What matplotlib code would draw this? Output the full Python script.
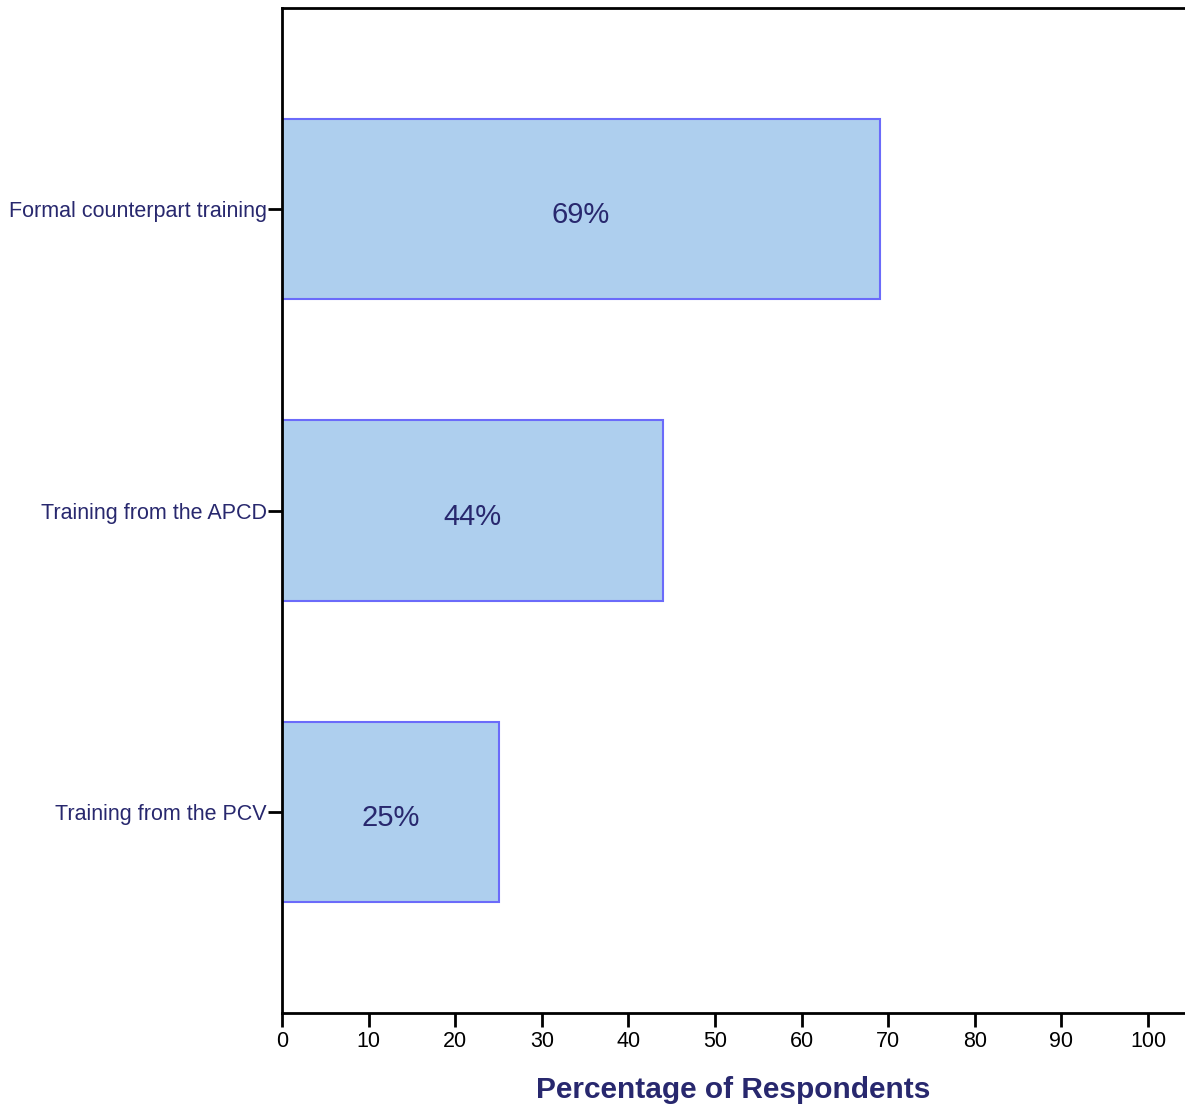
import matplotlib
matplotlib.use("Agg")
import matplotlib.pyplot as plt

categories = ["Formal counterpart training", "Training from the APCD", "Training from the PCV"]
values = [69, 44, 25]
bar_labels = ["69%", "44%", "25%"]
xticks = [0, 10, 20, 30, 40, 50, 60, 70, 80, 90, 100]

navy = "#28286e"
plt.rcParams['font.family'] = ['Liberation Sans', 'DejaVu Sans']

fig = plt.figure(figsize=(11.85, 11.09), dpi=100)
ax = fig.add_axes([282/1185, 96/1109, 1 - 282/1185, (1013-8)/1109])

pos = list(range(len(categories)))
ax.barh(pos, values, height=0.6, color="#aecfee", edgecolor="#6b6bfa", linewidth=1.5, zorder=2)
for p, v, lab in zip(pos, values, bar_labels):
    ax.text(v/2, p + 0.02, lab, ha="center", va="center", fontsize=21, color=navy)

ax.set_ylim(2.667, -0.667)
ax.set_xlim(0, (1185-282)/8.66)
ax.set_yticks(pos)
ax.set_yticklabels(categories, fontsize=15.5, color=navy)
ax.set_xticks(xticks)
ax.set_xticklabels([str(t) for t in xticks], fontsize=15.5, color="black")
ax.tick_params(axis="both", direction="out", length=10, width=2, color="black")
ax.tick_params(axis="y", pad=1)
ax.tick_params(axis="x", pad=3)
for s in ["left", "bottom", "top"]:
    ax.spines[s].set_linewidth(2)
    ax.spines[s].set_color("black")
ax.spines["right"].set_visible(False)

ax.set_xlabel("Percentage of Respondents", fontsize=21.5, fontweight="bold", color=navy, labelpad=17)

fig.savefig("out.png", dpi=100)
